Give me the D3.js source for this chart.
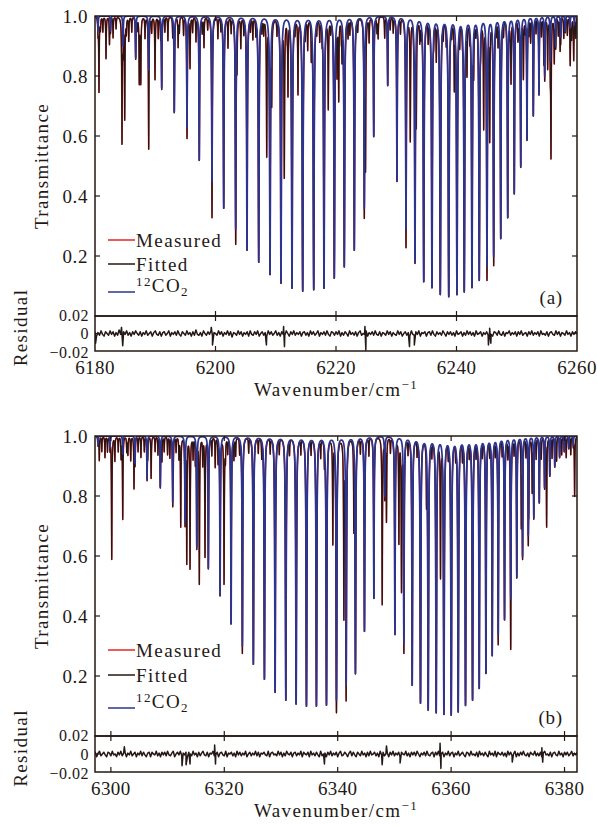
<!DOCTYPE html>
<html><head><meta charset="utf-8">
<script src="https://cdn.jsdelivr.net/npm/d3@7"></script>
<style>body{margin:0;background:#fff}svg{display:block}text{font-family:"Liberation Serif",serif;fill:#231815}</style>
</head><body><svg id="c" width="597" height="827"></svg>
<script>
// ---------- DATA ----------
// Panel (a): 12CO2 line centres (cm-1) and peak transmittance
const aCO2Pos = [6180.50,6182.57,6184.65,6186.75,6188.91,6191.07,6193.16,6195.27,6197.31,6199.42,6201.36,6203.35,6205.23,6207.17,6209.05,6210.87,6212.70,6214.47,6216.30,6218.01,6219.72,6221.38,6223.04,6224.70,6226.26,6228.58,6230.12,6231.62,6233.11,6234.56,6235.93,6237.31,6238.71,6240.08,6241.29,6242.57,6243.78,6245.06,6246.17,6247.34,6248.50,6249.59,6250.66,6251.70,6252.75,6253.69,6254.64,6255.57,6256.46,6257.29,6258.06,6258.84,6259.55];
const aCO2T   = [0.95,0.95,0.90,0.86,0.82,0.76,0.68,0.63,0.52,0.45,0.36,0.29,0.22,0.18,0.14,0.11,0.093,0.083,0.088,0.093,0.127,0.165,0.22,0.36,0.60,0.77,0.45,0.29,0.18,0.115,0.095,0.072,0.065,0.072,0.081,0.096,0.12,0.165,0.20,0.26,0.33,0.41,0.50,0.59,0.67,0.74,0.80,0.85,0.90,0.93,0.95,0.96,0.97];
// Panel (a): other absorbers (H2O, other isotopologues) centres and transmittance
const aOthPos = [6180.66,6180.9,6181.3,6181.83,6182.4,6183.0,6183.5,6184.48,6184.93,6185.2,6185.6,6186.1,6187.0,6187.35,6187.60,6188.3,6188.91,6189.4,6189.96,6190.5,6190.9,6191.6,6192.1,6192.9,6193.8,6194.0,6194.7,6195.3,6195.77,6196.2,6196.76,6197.8,6198.09,6198.7,6199.42,6200.4,6200.9,6202.07,6202.6,6203.35,6203.57,6204.2,6204.7,6205.8,6206.2,6206.7,6207.7,6208.0,6208.50,6209.33,6210.2,6211.42,6211.9,6212.03,6213.2,6213.69,6214.9,6215.3,6215.9,6216.8,6217.3,6217.7,6218.72,6219.1,6220.17,6220.45,6220.9,6221.0,6222.0,6222.3,6223.6,6224.70,6224.9,6225.5,6226.8,6227.0,6228.08,6229.0,6229.5,6230.7,6231.62,6232.33,6232.9,6233.33,6233.9,6234.1,6235.3,6236.2,6236.65,6237.8,6238.3,6239.2,6239.64,6240.53,6241.0,6241.74,6242.2,6242.85,6243.2,6244.0,6244.51,6245.06,6245.51,6246.17,6246.6,6246.9,6247.8,6248.9,6249.05,6250.2,6250.4,6251.1,6251.4,6252.0,6252.3,6253.2,6254.1,6254.5,6255.13,6255.68,6256.23,6256.9,6257.2,6257.8,6258.4,6258.88,6259.1,6259.45,6259.8];
const aOthT   = [0.75,0.96,0.95,0.86,0.91,0.93,0.96,0.58,0.66,0.95,0.92,0.95,0.96,0.78,0.78,0.93,0.68,0.95,0.79,0.93,0.94,0.95,0.92,0.94,0.90,0.95,0.94,0.92,0.83,0.95,0.92,0.95,0.90,0.96,0.73,0.93,0.96,0.90,0.95,0.83,0.86,0.90,0.95,0.96,0.93,0.95,0.96,0.95,0.54,0.74,0.95,0.47,0.96,0.75,0.96,0.75,0.95,0.90,0.88,0.96,0.93,0.95,0.70,0.96,0.82,0.73,0.95,0.88,0.94,0.95,0.96,0.94,0.51,0.92,0.95,0.93,0.93,0.96,0.95,0.95,0.79,0.59,0.96,0.68,0.93,0.95,0.93,0.96,0.87,0.95,0.94,0.96,0.78,0.93,0.96,0.83,0.95,0.85,0.96,0.95,0.64,0.73,0.60,0.85,0.96,0.92,0.95,0.96,0.79,0.93,0.95,0.80,0.96,0.95,0.92,0.95,0.94,0.86,0.83,0.54,0.85,0.94,0.90,0.93,0.94,0.86,0.93,0.86,0.93];
// Panel (a): residual, thousandths, every 0.25 cm-1 from 6180
const aResStart = 6180, aResStep = 0.25;
const aResMilli = [2,-3,1,-2,3,-1,-3,2,0,-2,3,-1,2,-3,1,-2,4,-1,-3,2,
 -1,3,-2,1,-3,2,-1,3,0,-2,2,-3,1,-1,3,-2,0,2,-3,1,
 3,-1,-2,2,-3,1,2,-2,0,3,-3,1,-1,2,-2,3,-1,-3,2,0,
 -2,3,-1,1,-3,2,-2,4,-1,-2,1,-3,3,0,-2,2,-1,3,-3,1,
 0,-2,3,-1,2,-3,1,-1,3,-2,2,-4,1,0,-2,3,-1,2,-3,1,
 -1,2,-3,3,-1,-2,2,-1,3,-3,0,2,-2,1,-3,3,-1,2,-2,0,
 3,-2,1,-3,2,-1,-2,3,0,-3,2,-1,3,-2,1,-1,2,-3,1,2,
 -2,1,-3,3,-1,2,-2,0,3,-3,1,-1,2,-2,3,-1,-3,2,1,-2,
 2,-1,3,-3,1,-2,2,0,-3,3,-1,1,-2,2,-3,1,3,-2,0,-1,
 3,-3,1,-1,2,-2,3,-1,-2,2,-3,1,0,-2,3,-1,2,-3,1,-1,
 -2,3,-1,2,-3,0,2,-2,1,-3,3,-1,-2,2,-1,3,-3,1,0,2,
 -3,1,2,-2,3,-1,-3,2,-1,1,-2,3,0,-3,2,-1,2,-2,1,-3,
 3,-1,0,2,-3,1,-2,3,-1,2,-2,1,-3,3,-1,0,2,-3,1,-1,
 2,-2,3,-1,-3,2,1,-2,3,-1,-2,2,-3,1,0,3,-2,1,-1,2,
 -3,2,-1,3,-2,0,1,-3,2,-1,3,-2,1,-1,2,-3,3,-1,0,-2,
 2,-3,1,2,-1,-2,3,-1,2,-3,1,0,-2,3,-1,1,-3,2,-1,2,0];
const aSpikePos = [6180.10,6184.40,6184.60,6199.30,6199.50,6208.45,6211.30,6211.45,6224.80,6224.95,6232.20,6233.00,6245.30,6245.50,6245.70];
const aSpikeMilli = [-11,7,-14,7,-13,-13,8,-15,8,-19,-15,-13,-13,6,-11];

// Panel (b)
const bCO2Pos = [6297.73,6299.85,6302.09,6304.26,6306.38,6308.72,6310.91,6313.08,6315.15,6317.19,6319.26,6321.20,6323.19,6325.13,6327.08,6328.96,6330.85,6332.67,6334.49,6336.25,6338.02,6339.78,6341.49,6343.13,6344.72,6346.38,6348.30,6350.09,6351.67,6353.14,6354.60,6355.96,6357.37,6358.73,6360.02,6361.25,6362.54,6363.78,6364.96,6366.14,6367.25,6368.31,6369.42,6370.52,6371.58,6372.60,6373.61,6374.58,6375.55,6376.48,6377.40,6378.28,6379.13,6379.96,6380.75,6381.55];
const bCO2T   = [0.97,0.96,0.94,0.91,0.86,0.83,0.78,0.71,0.63,0.56,0.47,0.375,0.30,0.24,0.19,0.146,0.12,0.107,0.10,0.10,0.103,0.12,0.17,0.21,0.35,0.46,0.80,0.34,0.31,0.17,0.11,0.087,0.078,0.073,0.07,0.081,0.103,0.12,0.16,0.21,0.27,0.34,0.39,0.46,0.53,0.60,0.67,0.73,0.78,0.83,0.87,0.90,0.93,0.95,0.96,0.97];
const bOthPos = [6297.96,6298.4,6298.96,6299.4,6300.15,6300.7,6301.3,6301.8,6302.09,6302.8,6303.0,6303.5,6304.08,6304.8,6305.3,6305.9,6306.5,6307.1,6307.8,6308.3,6309.0,6309.4,6310.0,6310.4,6311.0,6311.5,6312.0,6312.32,6313.38,6313.96,6314.5,6314.9,6315.6,6316.2,6316.6,6317.8,6318.4,6318.9,6319.96,6320.2,6320.6,6321.7,6322.0,6322.7,6323.19,6324.3,6326.0,6326.6,6328.1,6329.7,6331.5,6333.5,6335.3,6337.0,6337.66,6339.14,6339.78,6341.09,6341.49,6342.85,6344.0,6345.5,6347.85,6348.6,6349.3,6350.79,6351.25,6351.67,6352.4,6354.0,6355.66,6356.6,6358.13,6359.5,6360.8,6362.0,6363.2,6364.4,6365.5,6366.8,6367.8,6368.31,6369.0,6370.0,6370.49,6371.1,6372.38,6373.2,6373.7,6374.3,6375.0,6375.9,6376.84,6377.8,6378.6,6379.5,6380.3,6381.1,6381.78];
const bOthT   = [0.92,0.95,0.93,0.95,0.59,0.92,0.95,0.93,0.77,0.95,0.94,0.92,0.83,0.95,0.93,0.95,0.94,0.86,0.95,0.94,0.92,0.95,0.94,0.93,0.92,0.95,0.93,0.70,0.58,0.56,0.93,0.92,0.51,0.91,0.60,0.94,0.90,0.92,0.51,0.93,0.95,0.93,0.94,0.95,0.92,0.95,0.95,0.94,0.95,0.95,0.95,0.95,0.95,0.94,0.93,0.65,0.65,0.40,0.70,0.71,0.95,0.94,0.44,0.72,0.95,0.65,0.49,0.90,0.95,0.95,0.81,0.95,0.54,0.95,0.95,0.94,0.95,0.95,0.95,0.95,0.95,0.90,0.95,0.94,0.56,0.95,0.71,0.94,0.80,0.82,0.93,0.93,0.70,0.93,0.92,0.94,0.93,0.94,0.80];
const bResStart = 6297, bResStep = 0.25;
const bResMilli = [-1,2,-3,1,3,-2,0,2,-1,-3,2,1,-2,3,-1,0,-3,2,-1,3,
 -2,1,2,-3,1,-1,3,-2,0,2,-3,1,-1,3,-2,2,-1,-3,1,2,
 -3,2,0,-1,3,-2,1,-3,2,-1,2,-2,3,-1,-2,1,3,-3,0,2,
 -1,3,-2,1,-1,2,-3,2,0,-2,3,-1,1,-3,2,-2,1,3,-1,-2,
 2,-3,1,0,3,-2,-1,2,-3,1,2,-1,-2,3,-3,1,0,2,-2,1,
 -3,3,-1,2,-2,1,-1,3,-3,0,2,-2,1,-1,3,-2,2,-3,1,0,
 2,-1,-2,3,-3,1,2,-1,0,-2,3,-1,2,-3,1,-2,3,0,-1,2,
 -3,1,2,-2,1,-1,3,-3,2,0,-1,2,-3,3,-1,1,-2,2,-1,-3,
 3,-2,0,1,-3,2,-1,3,-2,1,-1,2,-3,1,3,-2,-1,2,0,-3,
 1,3,-2,2,-1,-3,2,0,-2,3,-1,1,-3,2,-2,3,-1,0,2,-2,
 1,-3,3,-1,2,-2,0,1,-3,2,-1,3,-2,1,-1,2,-3,2,0,-1,
 3,-2,1,-3,2,-1,2,-2,3,0,-3,1,-1,2,-2,3,-1,-2,1,2,
 -3,2,-1,3,-2,0,2,-3,1,-1,3,-2,1,2,-3,1,-1,3,-2,0,
 2,-1,-3,2,1,-2,3,-1,0,-2,2,-3,3,-1,1,-2,2,-1,-3,3,
 -1,1,-2,3,-3,2,0,-1,2,-2,1,-3,3,-1,2,-2,0,3,-3,1,
 -2,2,-1,3,-1,-2,1,-3,2,0,-1,3,-2,1,-2,2,-3,1,3,-1,
 0,-2,2,-3,1,2,-1,-2,3,-1,1,-3,2,-1,2,-2,0,3,-2,1,
 -1,2,-1];
const bSpikePos = [6302.37,6312.55,6313.26,6313.96,6318.30,6318.45,6337.66,6347.84,6348.60,6351.00,6358.05,6358.20,6370.78,6376.00,6376.15];
const bSpikeMilli = [8,-13,-12,-11,10,-11,-11,-12,9,-10,12,-16,-9,7,-9];

const tTicks = [1.0,0.8,0.6,0.4,0.2];
const rTicks = [0.02,0,-0.02];
const rTickLabels = ["0.02","0","\u22120.02"];
const aXTicks = [6180,6200,6220,6240,6260];
const bXTicks = [6300,6320,6340,6360,6380];
const legendLabels = ["Measured","Fitted"];

// ---------- DRAW ----------
const svg = d3.select("#c");
const INK = "#231815", RED = "#e8242a", BLUE = "#2b3590";
const GAMMA = 0.048;

function absorb(pos, T, nu){
  const g2 = GAMMA*GAMMA; let s = 0;
  for (let i=0;i<pos.length;i++){ const d = nu-pos[i]; if (d>-4 && d<4) s += -Math.log(T[i])*g2/(d*d+g2); }
  return s;
}

function panel(o){
  const {id, dom, top, mid, bot, left, right, co2P, co2T, othP, othT, resStart, resStep, res, spP, spV, xTicks, tag, legY} = o;
  const x = d3.scaleLinear().domain(dom).range([left,right]);
  const y = d3.scaleLinear().domain([0,1]).range([mid,top]);
  const yr = d3.scaleLinear().domain([-0.02,0.02]).range([bot,mid]);
  const g = svg.append("g");
  const cp = g.append("clipPath").attr("id","cp"+id);
  cp.append("rect").attr("x",left).attr("y",top).attr("width",right-left).attr("height",mid-top);
  const cr = g.append("clipPath").attr("id","cr"+id);
  cr.append("rect").attr("x",left).attr("y",mid).attr("width",right-left).attr("height",bot-mid);

  // sample grid: fine wavenumber steps plus every line centre
  let grid = d3.range(dom[0], dom[1]+0.005, 0.01).concat(co2P, othP).filter(v=>v>=dom[0]-0.5&&v<=dom[1]+0.5).sort((a,b)=>a-b);
  const pts = grid.map(nu => { const c = absorb(co2P,co2T,nu), h = absorb(othP,othT,nu); return {nu, co2:Math.exp(-c), tot:Math.exp(-(c+h))}; });
  const line = d3.line().x(d=>x(d.nu));
  const pg = g.append("g").attr("clip-path",`url(#cp${id})`).attr("fill","none").attr("stroke-linejoin","round");
  pg.append("path").attr("d", line.y(d=>y(d.tot))(pts)).attr("stroke",RED).attr("stroke-width",1.5);
  pg.append("path").attr("d", line.y(d=>y(d.tot))(pts)).attr("stroke",INK).attr("stroke-width",1.2);
  pg.append("path").attr("d", line.y(d=>y(d.co2))(pts)).attr("stroke",BLUE).attr("stroke-width",1.7);

  // residual
  let rp = res.map((v,i)=>({nu:resStart+i*resStep, r:v/1000})).concat(spP.map((p,i)=>({nu:p, r:spV[i]/1000}))).sort((a,b)=>a.nu-b.nu);
  g.append("path").attr("clip-path",`url(#cr${id})`).attr("fill","none").attr("stroke",INK).attr("stroke-width",1.5).attr("stroke-linejoin","round")
    .attr("d", d3.line().x(d=>x(d.nu)).y(d=>yr(d.r))(rp));

  // frames
  const fr = g.append("g").attr("fill","none").attr("stroke",INK).attr("stroke-width",1.5);
  fr.append("rect").attr("x",left).attr("y",top).attr("width",right-left).attr("height",mid-top);
  fr.append("rect").attr("x",left).attr("y",mid).attr("width",right-left).attr("height",bot-mid);
  const tk = g.append("g").attr("stroke",INK).attr("stroke-width",1.2);
  const TL = 5;
  xTicks.forEach(v=>{ const px = x(v); if (px<=left+1||px>=right-1) return;
    [[top,top+TL],[mid,mid-TL],[mid,mid+TL],[bot,bot-TL]].forEach(s=>tk.append("line").attr("x1",px).attr("x2",px).attr("y1",s[0]).attr("y2",s[1])); });
  tTicks.forEach(v=>{ const py=y(v); if (Math.abs(py-top)<1) return;
    tk.append("line").attr("x1",left).attr("x2",left+TL).attr("y1",py).attr("y2",py);
    tk.append("line").attr("x1",right).attr("x2",right-TL).attr("y1",py).attr("y2",py); });
  tk.append("line").attr("x1",left).attr("x2",left+TL).attr("y1",yr(0)).attr("y2",yr(0));
  tk.append("line").attr("x1",right).attr("x2",right-TL).attr("y1",yr(0)).attr("y2",yr(0));

  // labels
  const fs = 19, ls = "1.4px";
  tTicks.forEach(v=> g.append("text").attr("x",left-7).attr("y",y(v)).attr("dy","0.35em").attr("text-anchor","end").attr("font-size",fs).attr("letter-spacing","0.6px").text(v.toFixed(1)));
  const rOff = [-1,0,1];
  rTicks.forEach((v,i)=> g.append("text").attr("x",left-6).attr("y",yr(v)+rOff[i]).attr("dy","0.35em").attr("text-anchor","end").attr("font-size",16).attr("letter-spacing","0.5px").text(rTickLabels[i]));
  xTicks.forEach(v=> g.append("text").attr("x",x(v)).attr("y",bot+16).attr("dy","0.35em").attr("text-anchor","middle").attr("font-size",fs).attr("letter-spacing","0.4px").text(v));
  g.append("text").attr("transform",`translate(${left-54},${(top+mid)/2}) rotate(-90)`).attr("text-anchor","middle").attr("font-size",fs).attr("letter-spacing",ls).attr("dy","0.35em").text("Transmittance");
  g.append("text").attr("transform",`translate(${left-75},${(mid+bot)/2-6}) rotate(-90)`).attr("text-anchor","middle").attr("font-size",fs).attr("letter-spacing",ls).attr("dy","0.35em").text("Residual");
  const xl = g.append("text").attr("x",(left+right)/2).attr("y",bot+45).attr("text-anchor","middle").attr("font-size",fs).attr("letter-spacing",ls);
  xl.append("tspan").text("Wavenumber/cm");
  xl.append("tspan").attr("dy",-7).attr("font-size",13).text("\u22121");
  g.append("text").attr("x",right-14).attr("y",mid-19).attr("dy","0.35em").attr("text-anchor","end").attr("font-size",fs).attr("letter-spacing","0.8px").text("("+tag+")");

  // legend
  const lx = left+13;
  const cols = [RED, INK, BLUE];
  legY.forEach((ly,i)=>{
    g.append("line").attr("x1",lx).attr("x2",lx+27).attr("y1",ly).attr("y2",ly).attr("stroke",cols[i]).attr("stroke-width",1.5);
    const t = g.append("text").attr("x",lx+28).attr("y",ly).attr("dy","0.35em").attr("font-size",fs).attr("letter-spacing",ls);
    if (i<2) t.text(legendLabels[i]);
    else { t.append("tspan").attr("font-size",13).attr("dy",-6).text("12"); t.append("tspan").attr("dy",6).text("CO"); t.append("tspan").attr("font-size",13).attr("dy",4).text("2"); }
  });
}

panel({id:"a", dom:[6180,6260], top:16, mid:316, bot:351, left:95, right:577,
  co2P:aCO2Pos, co2T:aCO2T, othP:aOthPos, othT:aOthT, resStart:aResStart, resStep:aResStep, res:aResMilli, spP:aSpikePos, spV:aSpikeMilli,
  xTicks:aXTicks, tag:"a", legY:[240,264,292]});
panel({id:"b", dom:[6297.2,6382.2], top:436, mid:736, bot:772, left:95, right:577,
  co2P:bCO2Pos, co2T:bCO2T, othP:bOthPos, othT:bOthT, resStart:bResStart, resStep:bResStep, res:bResMilli, spP:bSpikePos, spV:bSpikeMilli,
  xTicks:bXTicks, tag:"b", legY:[650,675,708]});
</script></body></html>
